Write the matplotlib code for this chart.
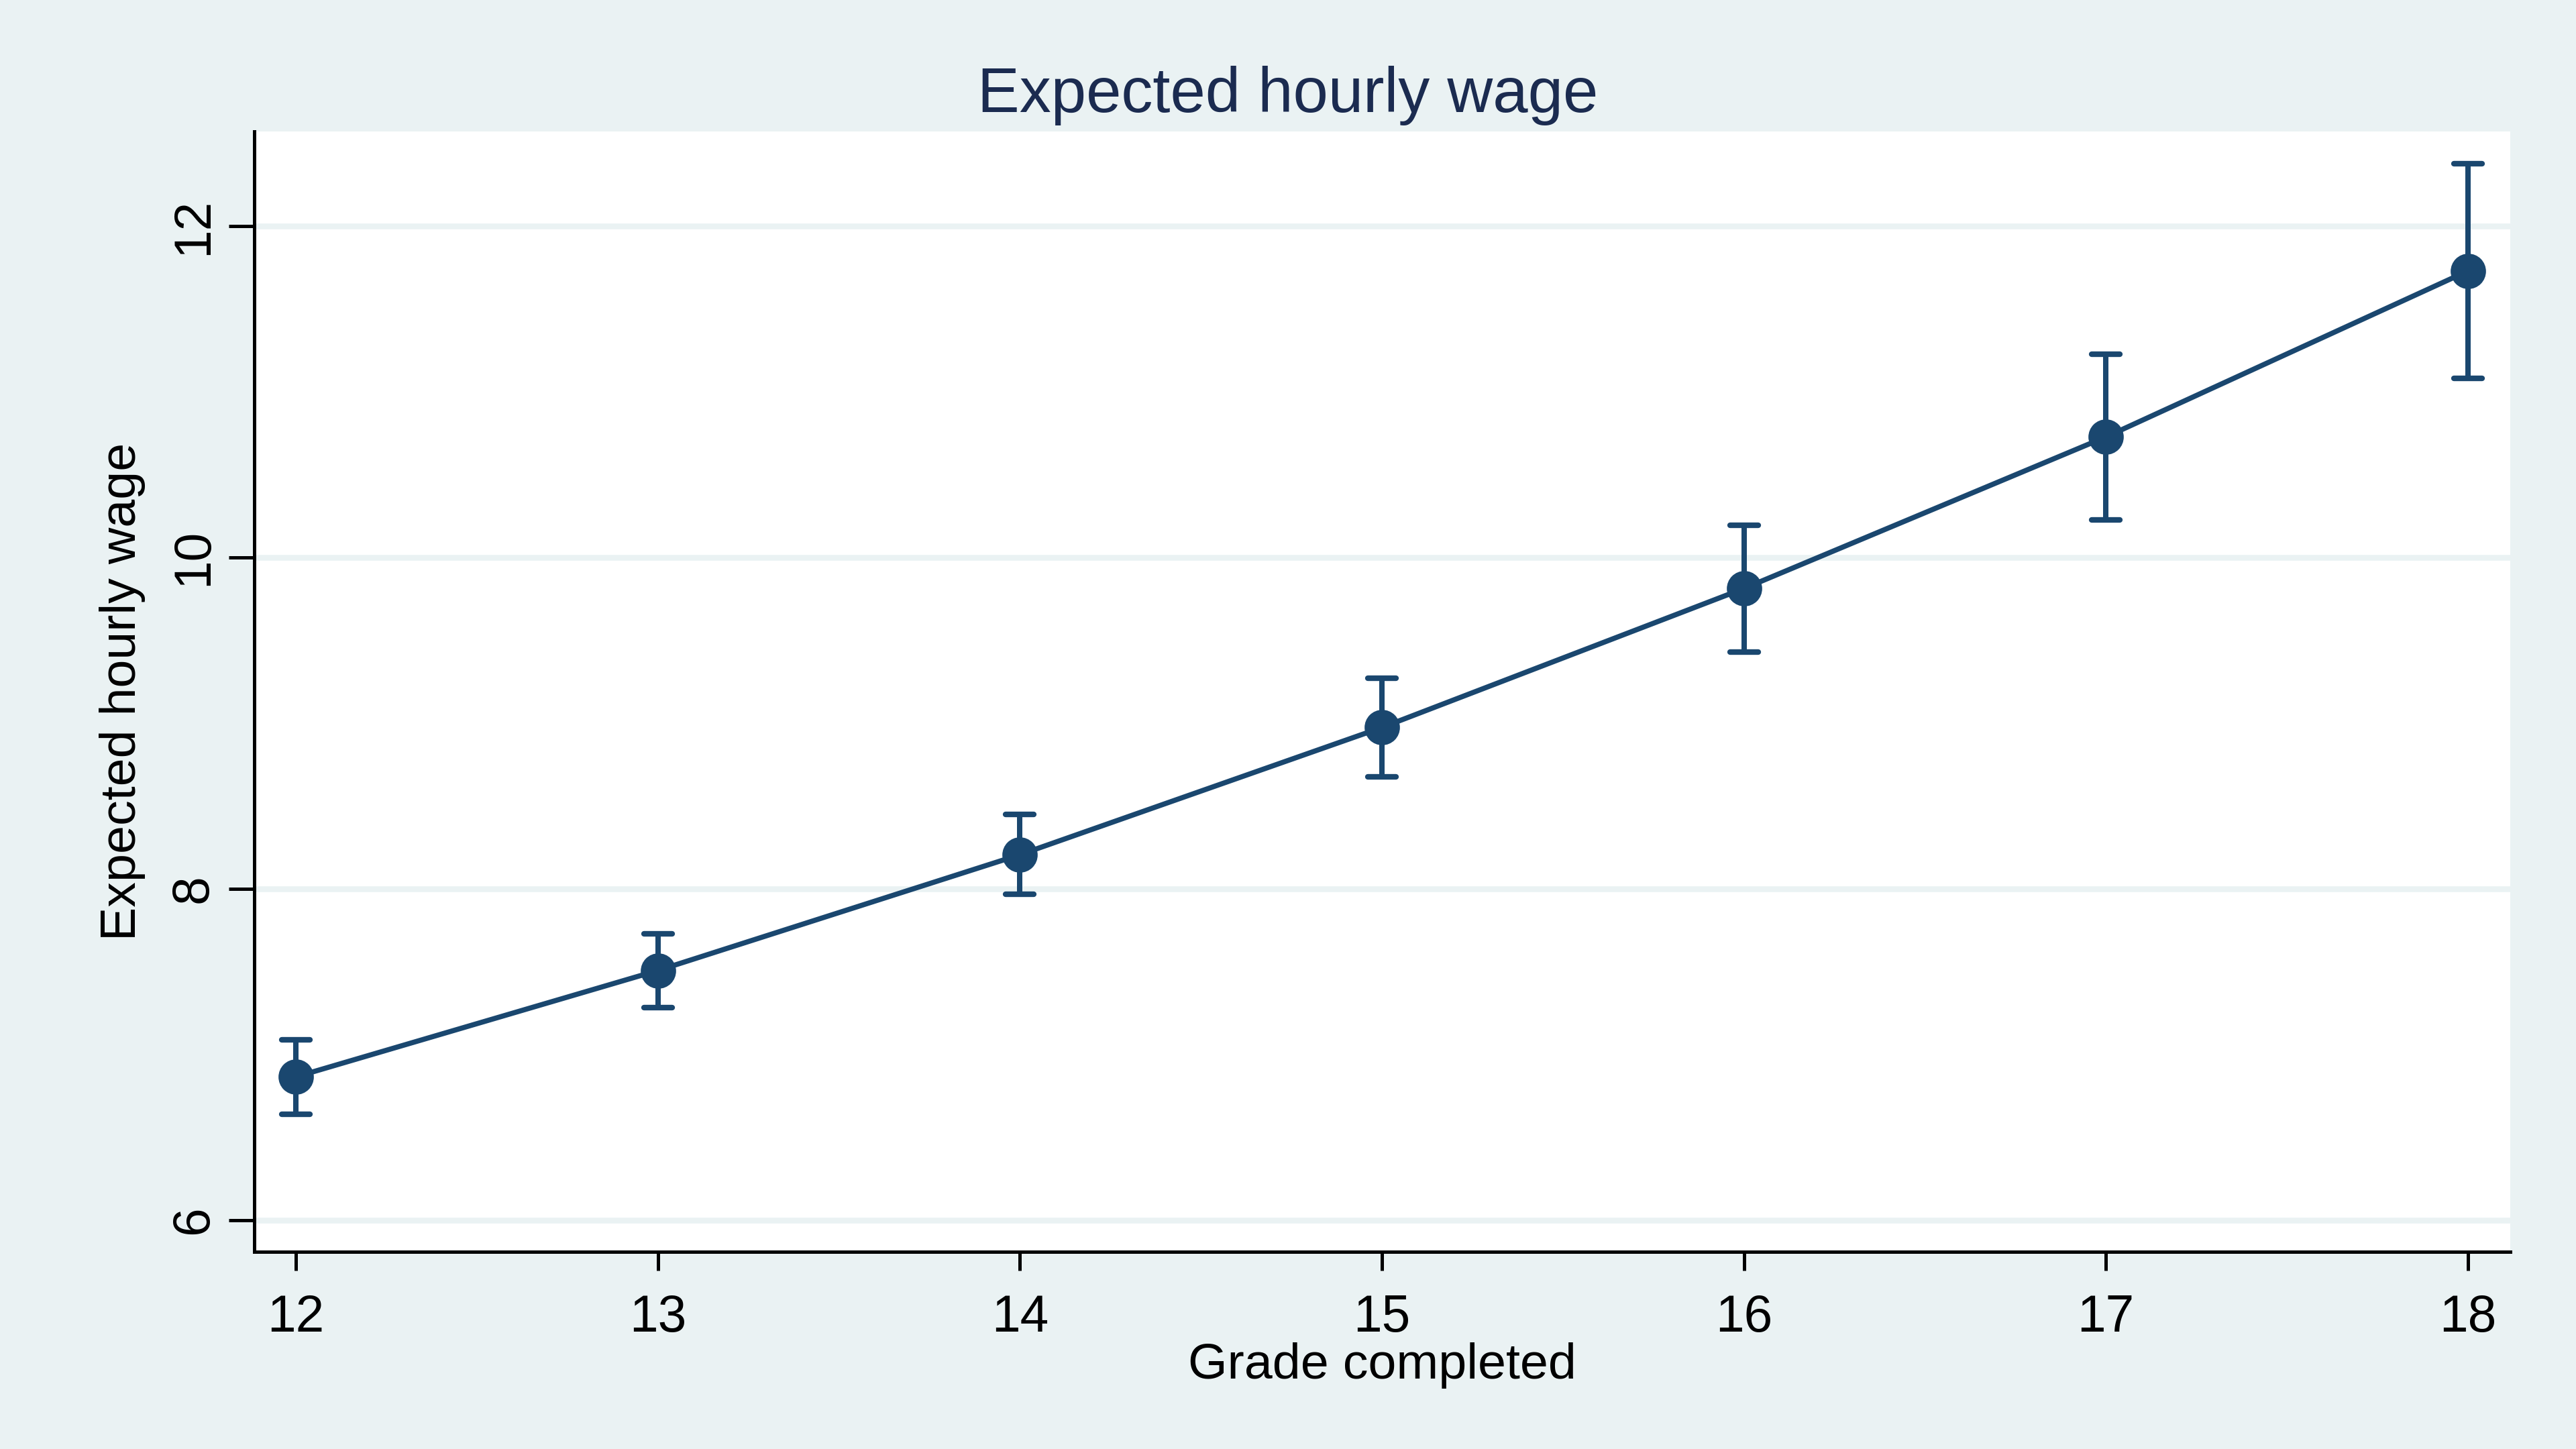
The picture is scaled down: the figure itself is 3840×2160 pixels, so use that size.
import matplotlib
matplotlib.use("Agg")
import matplotlib.pyplot as plt
from matplotlib.markers import MarkerStyle

# ---- data ----
grade = [12, 13, 14, 15, 16, 17, 18]
wage = [6.864, 7.506, 8.205, 8.973, 9.812, 10.727, 11.729]
ci_low = [6.639, 7.284, 7.966, 8.676, 9.427, 10.225, 11.081]
ci_high = [7.088, 7.726, 8.448, 9.269, 10.194, 11.228, 12.377]
yticks = [6, 8, 10, 12]
xticks = [12, 13, 14, 15, 16, 17, 18]

title = "Expected hourly wage"
xlabel = "Grade completed"
ylabel = "Expected hourly wage"

# ---- style ----
BG = "#eaf2f3"
NAVY = "#1a476f"
TITLE_C = "#1b2b50"
W, H, DPI = 3840, 2160, 240

plt.rcParams["font.family"] = ["Liberation Sans", "DejaVu Sans"]

fig = plt.figure(figsize=(W / DPI, H / DPI), dpi=DPI, facecolor=BG)
L, R, T, B = 379, 3742, 196, 1866
ax = fig.add_axes([L / W, 1 - B / H, (R - L) / W, (B - T) / H])
ax.set_facecolor("white")

lo_err = [w - l for w, l in zip(wage, ci_low)]
hi_err = [h - w for w, h in zip(wage, ci_high)]

ax.plot(grade, wage, color=NAVY, lw=2.3, zorder=3, solid_capstyle="round")
eb = ax.errorbar(grade, wage, yerr=[lo_err, hi_err], fmt="none", ecolor=NAVY,
                 elinewidth=2.4, capsize=6.3, capthick=2.5, zorder=4)
for cap in eb[1]:
    cap.set_marker(MarkerStyle("_", capstyle="round"))
    cap.set_markersize(12.6)
    cap.set_markeredgewidth(2.5)
ax.plot(grade, wage, linestyle="none", marker="o", markersize=15.8,
        markerfacecolor=NAVY, markeredgewidth=0, zorder=5)

ax.set_xlim(11.885, 18.117)
ax.set_ylim(5.808, 12.571)
ax.set_xticks(xticks)
ax.set_yticks(yticks)
ax.set_xticklabels([str(v) for v in xticks])
ax.set_yticklabels([str(v) for v in yticks])

ax.grid(axis="y", color=BG, linewidth=2.6, zorder=0)
ax.grid(axis="x", visible=False)
ax.set_axisbelow(True)

for s in ["top", "right"]:
    ax.spines[s].set_visible(False)
for s in ["left", "bottom"]:
    ax.spines[s].set_linewidth(1.5)
    ax.spines[s].set_color("black")

ax.tick_params(axis="x", direction="out", length=8.4, width=1.5, pad=10.2,
               labelsize=23, colors="black")
ax.tick_params(axis="y", direction="out", length=11.4, width=1.5, pad=4.9,
               labelsize=23, colors="black", labelrotation=90)
for lbl in ax.get_yticklabels():
    lbl.set_va("center")
    lbl.set_ha("right")

fig.text(0.5, 1 - 167 / H, title, ha="center", va="baseline",
         fontsize=28.2, color=TITLE_C)
fig.text(((L + R) / 2) / W, 1 - 2055 / H, xlabel, ha="center", va="baseline",
         fontsize=22.6, color="black")
fig.text(202 / W, 1 - ((T + B) / 2) / H, ylabel, rotation=90,
         rotation_mode="anchor", ha="center", va="baseline",
         fontsize=22.6, color="black")

fig.savefig("out.png", dpi=DPI, facecolor=BG)
